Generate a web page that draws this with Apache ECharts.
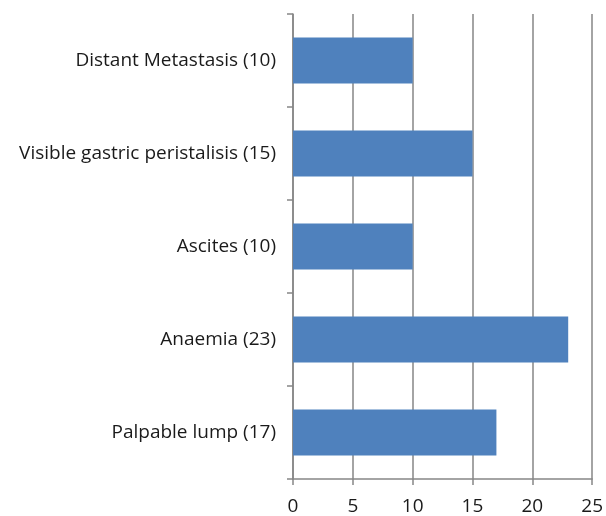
<!DOCTYPE html>
<html>
<head>
<meta charset="utf-8">
<script src="https://cdn.jsdelivr.net/npm/echarts@6/dist/echarts.min.js"></script>
<style>
  html, body { margin: 0; padding: 0; background: #fff; }
  #chart { width: 606px; height: 516px; }
</style>
</head>
<body>
<div id="chart"></div>
<script>
// Clinical signs, listed bottom to top along the category axis
const categories = [
  'Palpable lump (17)',
  'Anaemia (23)',
  'Ascites (10)',
  'Visible gastric peristalisis (15)',
  'Distant Metastasis (10)'
];
const values = [17, 23, 10, 15, 10];
const xTicks = { min: 0, max: 25, interval: 5 };

const axisGray = '#868686';
const fontFamily = '"Open Sans", "Liberation Sans", sans-serif';

const chart = echarts.init(document.getElementById('chart'), null, { renderer: 'canvas' });
chart.setOption({
  animation: false,
  grid: { left: 293, right: 11, top: 14, bottom: 35, containLabel: false },
  xAxis: {
    type: 'value',
    min: xTicks.min,
    max: xTicks.max,
    interval: xTicks.interval,
    axisLine: { show: true, lineStyle: { color: axisGray, width: 1.5 } },
    axisTick: { show: true, length: 6, lineStyle: { color: axisGray, width: 1.5 } },
    splitLine: { show: true, lineStyle: { color: axisGray, width: 1.5 } },
    axisLabel: { color: '#1a1a1a', fontSize: 19, fontFamily: fontFamily, margin: 18 }
  },
  yAxis: {
    type: 'category',
    data: categories,
    axisLine: { show: true, lineStyle: { color: axisGray, width: 1.5 } },
    axisTick: { show: true, length: 6, alignWithLabel: false, lineStyle: { color: axisGray, width: 1.5 } },
    axisLabel: { color: '#1a1a1a', fontSize: 19, fontFamily: fontFamily, margin: 17 }
  },
  series: [{
    type: 'bar',
    data: values,
    barWidth: 46,
    itemStyle: { color: '#4F81BD' }
  }]
});
</script>
</body>
</html>
